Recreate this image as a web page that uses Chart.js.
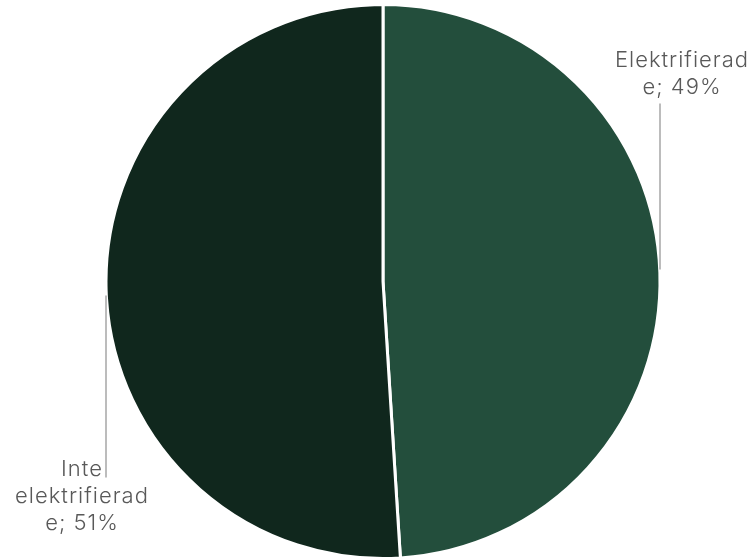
<!DOCTYPE html>
<html>
<head>
<meta charset="utf-8">
<script src="https://cdn.jsdelivr.net/npm/chart.js@4"></script>
<style>
  html, body { margin: 0; padding: 0; background: #ffffff; }
  #wrap { width: 756px; height: 560px; position: relative; }
</style>
</head>
<body>
<div id="wrap"><canvas id="c" width="756" height="560"></canvas></div>
<script>
const categories = ['Elektrifierade', 'Inte elektrifierade'];
const shares = [49, 51];
const labelLines = [
  ['Elektrifierad', 'e; 49%'],
  ['Inte', 'elektrifierad', 'e; 51%']
];
const sliceColors = ['#234E3C', '#10271D'];

const FONT = '300 22px Inter, "Open Sans", sans-serif';
const LINE_H = 27;

// Data labels with vertical leader lines, anchored to each arc's geometry
const leaderLabels = {
  id: 'leaderLabels',
  afterDatasetsDraw(chart) {
    const ctx = chart.ctx;
    const arcs = chart.getDatasetMeta(0).data;
    ctx.save();
    ctx.font = FONT;
    if ('letterSpacing' in ctx) ctx.letterSpacing = '1px';
    ctx.fillStyle = '#595959';
    ctx.textAlign = 'center';
    ctx.textBaseline = 'middle';
    ctx.strokeStyle = '#a6a6a6';
    ctx.lineWidth = 1.5;

    // right slice: label above, line dropping to the rim
    const a0 = arcs[0];
    const r = a0.outerRadius;
    const xR = a0.x + r;
    const lx0 = xR + 22, ly0 = a0.y - 221;
    labelLines[0].forEach((t, i) => ctx.fillText(t, lx0, ly0 + i * LINE_H));
    ctx.beginPath();
    ctx.moveTo(xR, ly0 + LINE_H + 16);
    ctx.lineTo(xR, a0.y - 12);
    ctx.stroke();

    // left slice: label below, line rising to the rim
    const a1 = arcs[1];
    const xL = a1.x - a1.outerRadius;
    const lx1 = xL - 24, ly1 = a1.y + 188;
    labelLines[1].forEach((t, i) => ctx.fillText(t, lx1, ly1 + i * LINE_H));
    ctx.beginPath();
    ctx.moveTo(xL, a1.y + 14);
    ctx.lineTo(xL, ly1 + 8);
    ctx.stroke();
    ctx.restore();
  }
};

new Chart(document.getElementById('c'), {
  type: 'pie',
  data: {
    labels: categories,
    datasets: [{
      data: shares,
      backgroundColor: sliceColors,
      borderColor: '#ffffff',
      borderWidth: 3
    }]
  },
  options: {
    responsive: false,
    animation: false,
    layout: { padding: { left: 104, right: 94, top: 3, bottom: 0 } },
    plugins: {
      legend: { display: false },
      tooltip: { enabled: false }
    }
  },
  plugins: [leaderLabels]
});
</script>
</body>
</html>
